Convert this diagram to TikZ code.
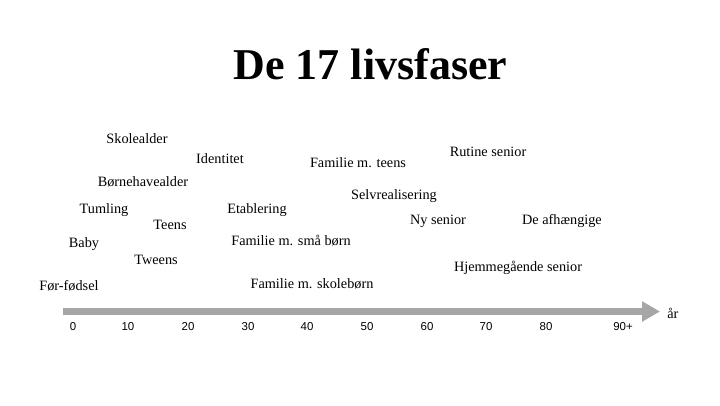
\documentclass[tikz,border=0pt]{standalone}
\usepackage{fontspec}
\setmainfont{Liberation Serif}
\newfontfamily\numfont{Liberation Sans}
\usetikzlibrary{arrows.meta}
\definecolor{axisgray}{RGB}{166,166,166}
\tikzset{
    fase/.style={inner sep=0.75pt, font=\fontsize{10.7}{12}\selectfont},
    aar/.style={inner sep=0.75pt, font=\numfont\fontsize{8.6}{10}\selectfont},
    tidslinje/.style={draw=axisgray, line width=5.25pt, -{Triangle[length=13.5pt,width=14.5pt]}}
}
\begin{document}
\begin{tikzpicture}[x=0.75pt,y=0.75pt,yscale=-1,xscale=1]
    %set diagram to 720 x 405
    \useasboundingbox (0,0) rectangle (720,405);

    % Title
    \node (titel) [anchor=base, inner sep=0pt, font=\bfseries\fontsize{33}{36}\selectfont] at (370.5,79) {De 17 livsfaser};

    % Text Node
    \node (skole) [fase] at (137,139) {Skolealder};
    % Text Node
    \node (identitet) [fase] at (220,159) {Identitet};
    % Text Node
    \node (famteens) [fase] at (358,163) {Familie m. teens};
    % Text Node
    \node (rutine) [fase] at (488,152) {Rutine senior};
    % Text Node
    \node (bhave) [fase] at (143,182) {Børnehavealder};
    % Text Node
    \node (selv) [fase] at (394,196) {Selvrealisering};
    % Text Node
    \node (tumling) [fase] at (104,210) {Tumling};
    % Text Node
    \node (etabl) [fase] at (257,210) {Etablering};
    % Text Node
    \node (teens) [fase] at (170,225) {Teens};
    % Text Node
    \node (nysenior) [fase] at (438,221) {Ny senior};
    % Text Node
    \node (afh) [fase] at (562,221) {De afhængige};
    % Text Node
    \node (baby) [fase] at (84,244) {Baby};
    % Text Node
    \node (famsmaa) [fase] at (291,241) {Familie m. små børn};
    % Text Node
    \node (tweens) [fase] at (156,260) {Tweens};
    % Text Node
    \node (hjemme) [fase] at (518,268) {Hjemmegående senior};
    % Text Node
    \node (foer) [fase] at (69,286) {Før-fødsel};
    % Text Node
    \node (famskole) [fase] at (312,284) {Familie m. skolebørn};

    % Axis
    \coordinate (start) at (63,311.5);
    \coordinate (slut) at (660,311.5);
    \draw [tidslinje] (start) -- (slut);
    \node (enhed) [fase, anchor=west] at (666,313) {år};

    % Age labels
    \node (a0) [aar] at (73,327) {0};
    \node (a10) [aar] at (128,327) {10};
    \node (a20) [aar] at (188,327) {20};
    \node (a30) [aar] at (248,327) {30};
    \node (a40) [aar] at (307,327) {40};
    \node (a50) [aar] at (367,327) {50};
    \node (a60) [aar] at (427,327) {60};
    \node (a70) [aar] at (486,327) {70};
    \node (a80) [aar] at (546,327) {80};
    \node (a90) [aar] at (623,327) {90+};

\end{tikzpicture}
\end{document}
